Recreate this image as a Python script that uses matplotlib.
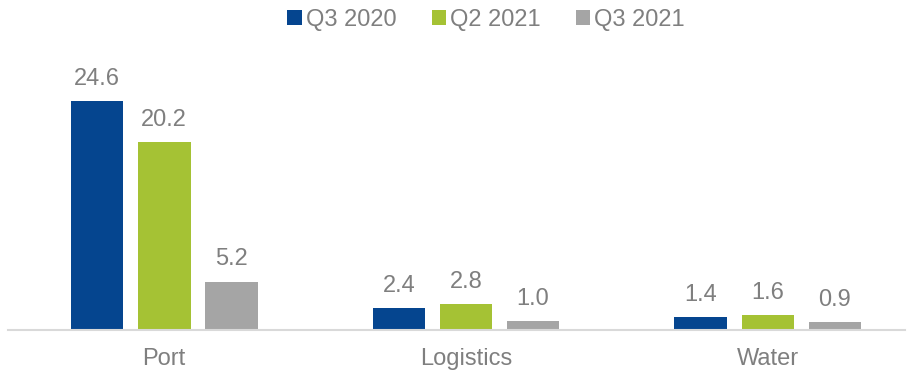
import numpy as np
import matplotlib.pyplot as plt
from matplotlib.patches import Patch

plt.rcParams['font.family'] = ['Liberation Sans', 'DejaVu Sans']

# Data
categories = ["Port", "Logistics", "Water"]
series_names = ["Q3 2020", "Q2 2021", "Q3 2021"]
q3_2020 = [24.6, 2.4, 1.4]
q2_2021 = [20.2, 2.8, 1.6]
q3_2021 = [5.2, 1.0, 0.9]

colors = ["#05458f", "#a5c234", "#a5a5a5"]
text_color = "#7f7f7f"
fs = 17

fig = plt.figure(figsize=(9.10, 3.72), dpi=100)
# axes from x=8px to 905px, y from 330px (bottom) upward
ax = fig.add_axes([8 / 910, (372 - 330) / 372, 897 / 910, 280 / 372])

x = np.arange(len(categories))
width = 0.175
step = 0.222

for i, (vals, name, c) in enumerate(zip([q3_2020, q2_2021, q3_2021], series_names, colors)):
    pos = x + (i - 1) * step
    bars = ax.bar(pos, vals, width=width, color=c, label=name)
    for b, v in zip(bars, vals):
        ax.annotate(f"{v:.1f}", (b.get_x() + b.get_width() / 2, v),
                    xytext=(0, 8), textcoords="offset points",
                    ha="center", va="bottom", fontsize=fs, color=text_color)

ax.set_xlim(-0.517, 2.454)
ax.set_ylim(0, 280 / 9.31)

for s in ["top", "left", "right"]:
    ax.spines[s].set_visible(False)
ax.spines["bottom"].set_color("#d9d9d9")
ax.spines["bottom"].set_linewidth(1.5)
ax.set_yticks([])
ax.set_xticks(x)
ax.set_xticklabels(categories, fontsize=fs, color=text_color)
ax.tick_params(axis="x", length=0, pad=13)

handles = [Patch(facecolor=c, edgecolor="none") for c in colors]
fig.legend(handles, series_names, loc="center", bbox_to_anchor=(486 / 910, 1 - 20 / 372),
           ncol=3, frameon=False, fontsize=fs, labelcolor=text_color,
           handlelength=0.6, handleheight=0.6, handletextpad=0.17,
           columnspacing=1.5)

fig.savefig("out.png", dpi=100)
